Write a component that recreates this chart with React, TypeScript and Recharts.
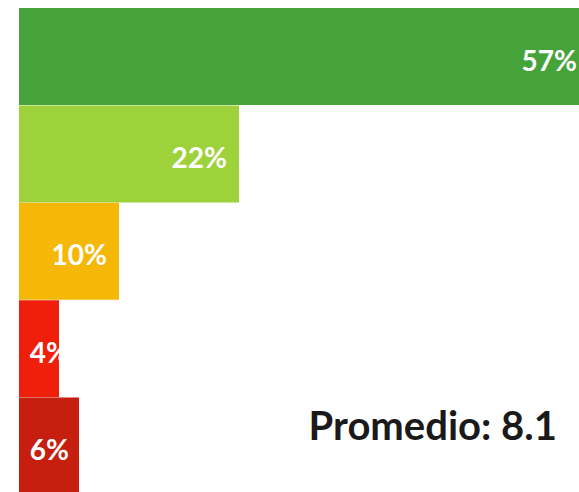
import { Bar, BarChart, Cell, Customized, LabelList, XAxis, YAxis } from "recharts"

const categories = ["10-9", "8-7", "6-5", "4-3", "2-1"]
const shares = [57, 22, 10, 4, 6]
const barColors = ["#45a33a", "#9dd23b", "#f6b807", "#f01f0b", "#c61f10"]
const averageLabel = "Promedio: 8.1"

const data = categories.map((name, i) => ({ name, value: shares[i] }))

const renderLabel = (props: any) => {
  const { x, y, width, height, value } = props
  // small bars: keep the label clear of the left edge
  const end = Math.max(x + width - 12, x + 50)
  return (
    <text
      x={end}
      y={y + height / 2 + 3}
      textAnchor="end"
      dominantBaseline="central"
      fill="#ffffff"
      fontFamily="Lato"
      fontWeight={700}
      fontSize={28}
    >
      {value}%
    </text>
  )
}

function App() {
  return (
    <div style={{ position: "absolute", top: 0, left: 0, width: 579, height: 492, overflow: "hidden", background: "#fff" }}>
      <BarChart
        width={579}
        height={495}
        data={data}
        layout="vertical"
        margin={{ top: 8, right: 0, left: 19, bottom: 0 }}
        barCategoryGap={0}
      >
        <XAxis type="number" hide domain={[0, 56]} allowDataOverflow />
        <YAxis type="category" dataKey="name" hide />
        <Bar dataKey="value" isAnimationActive={false}>
          {data.map((d, i) => (
            <Cell key={d.name} fill={barColors[i]} />
          ))}
          <LabelList dataKey="value" content={renderLabel} />
        </Bar>
        <Customized
          component={() => (
            <text x={557} y={440} textAnchor="end" fill="#1a1a1a" fontFamily="Lato" fontWeight={700} fontSize={40}>
              {averageLabel}
            </text>
          )}
        />
      </BarChart>
    </div>
  )
}

export default App
